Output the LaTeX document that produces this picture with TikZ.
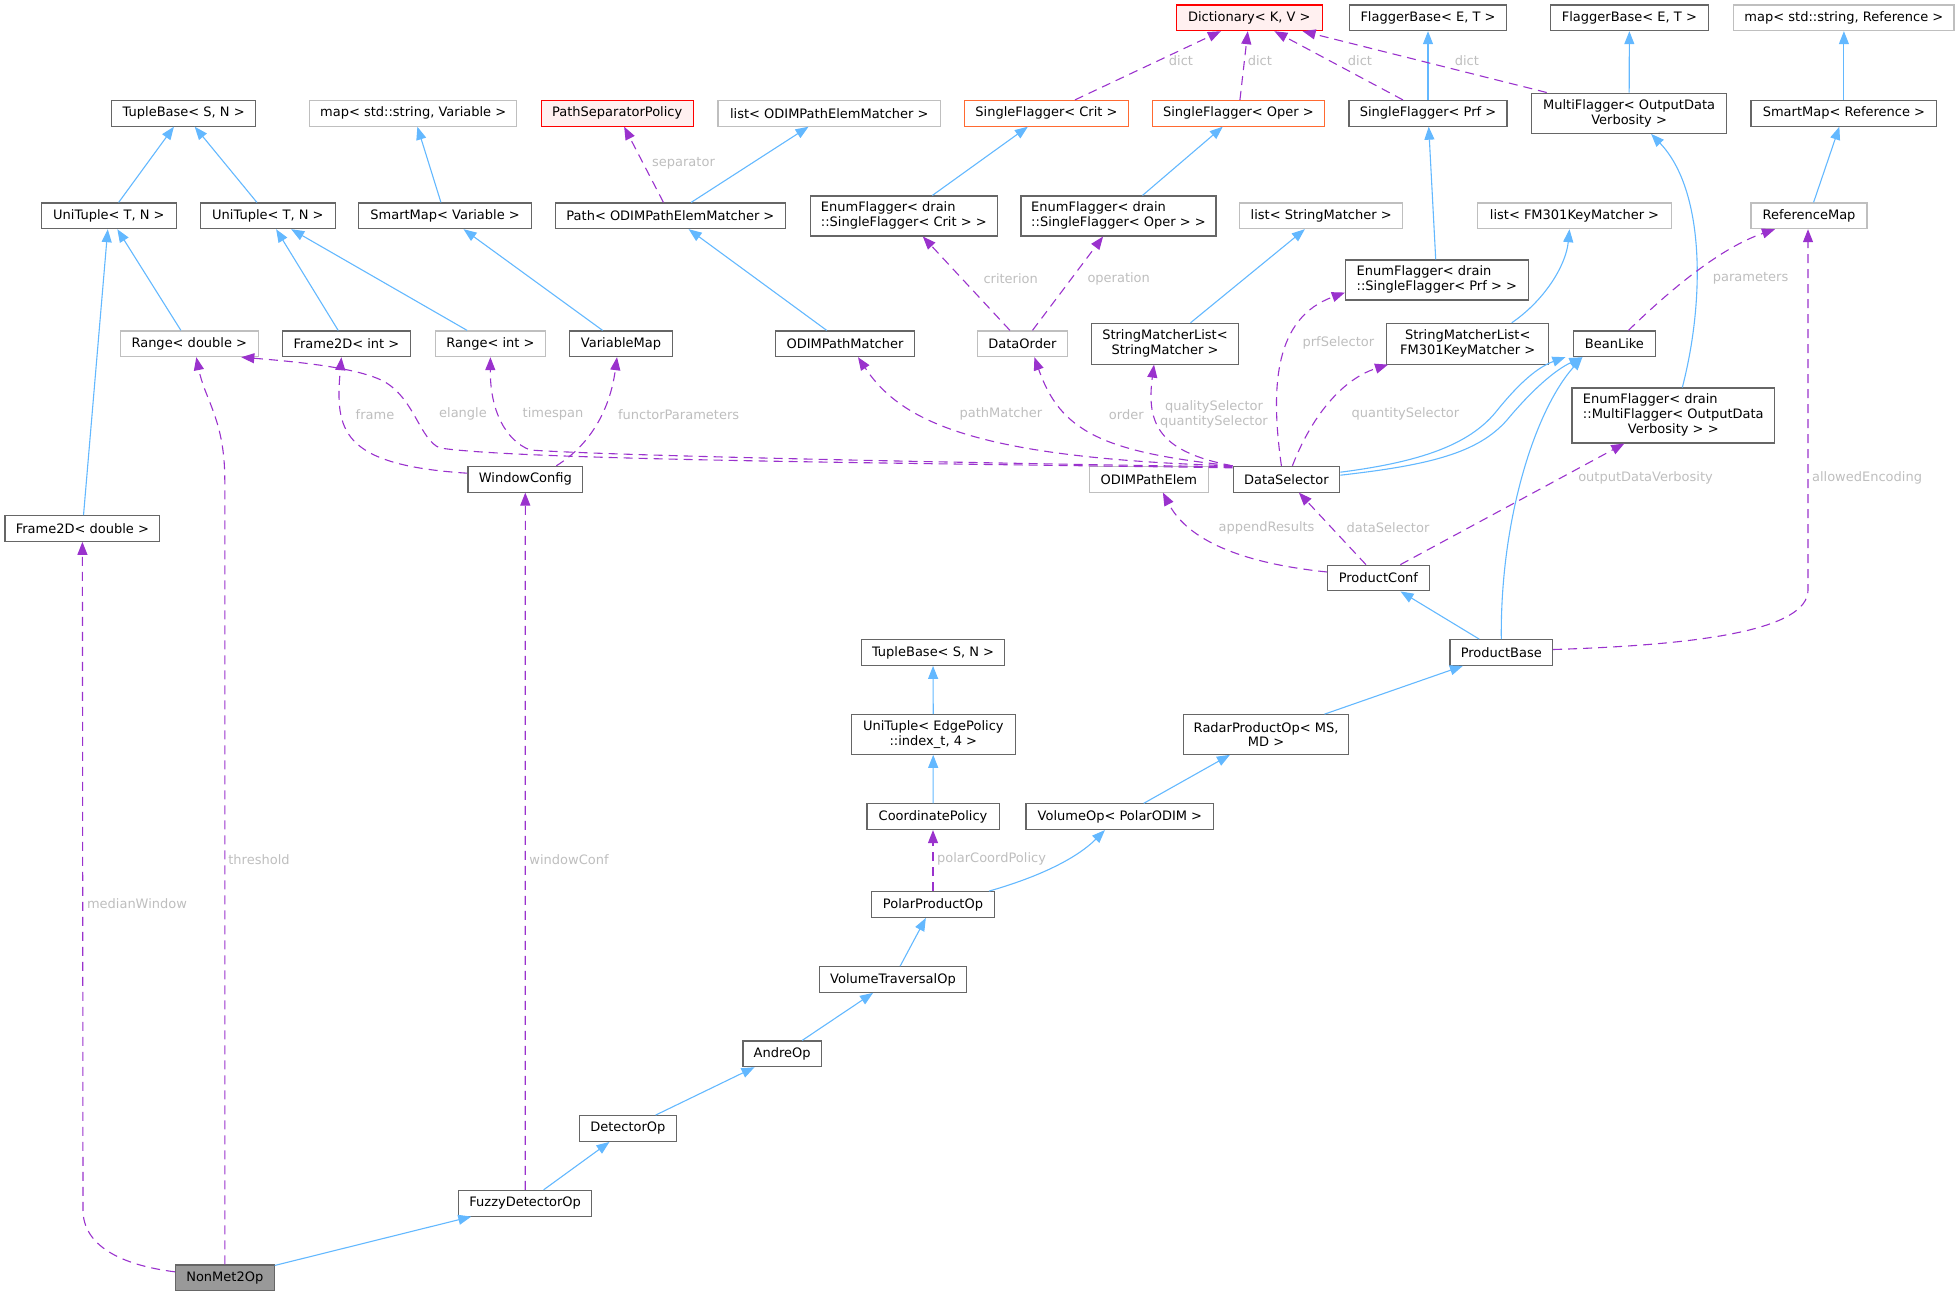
\documentclass[tikz,border=0pt]{standalone}
\usepackage{fontspec}
\setmainfont{DejaVu Sans}
\usetikzlibrary{arrows.meta}

\definecolor{edgeblue}{HTML}{63B8FF}
\definecolor{edgepurple}{HTML}{9A32CD}
\definecolor{lblgray}{HTML}{BEBEBE}
\definecolor{boxgray}{HTML}{666666}
\definecolor{extgray}{HTML}{BFBFBF}
\definecolor{truncred}{HTML}{FF0000}
\definecolor{truncfill}{HTML}{FFF0F0}
\definecolor{partorange}{HTML}{FF6A32}
\definecolor{selffill}{HTML}{999999}

\tikzset{
 box/.style={draw=boxgray, line width=1.1pt, fill=white, inner sep=0pt,
   minimum height=25.7pt, align=center, font=\fontsize{13}{14.7}\selectfont},
 extbox/.style={box, draw=extgray},
 redbox/.style={box, draw=truncred, fill=truncfill},
 orangebox/.style={box, draw=partorange},
 selfbox/.style={box, fill=selffill},
 inhedge/.style={draw=edgeblue, line width=1.1pt, -{Triangle[length=13pt,width=10pt]}},
 useedge/.style={draw=edgepurple, line width=1.1pt, dash pattern=on 9pt off 6pt,
   -{Triangle[length=13pt,width=10pt]}},
 elabel/.style={text=lblgray, inner sep=0pt, align=center, font=\fontsize{13}{14.7}\selectfont},
}

\begin{document}
\begin{tikzpicture}[x=1pt,y=-1pt]
 \useasboundingbox (0,0) rectangle (1959,1296);

 % top rows
 \node[redbox, minimum width=146pt] (dict) at (1249.3,17.8) {Dictionary< K, V >};
 \node[box, minimum width=157.6pt] (fb1) at (1428,17.8) {FlaggerBase< E, T >};
 \node[box, minimum width=157.7pt] (fb2) at (1629.4,17.8) {FlaggerBase< E, T >};
 \node[extbox, minimum width=220.2pt] (mapRef) at (1843.9,17.8) {map< std::string, Reference >};

 \node[box, minimum width=144.2pt] (tbL) at (183.7,113.3) {TupleBase< S, N >};
 \node[extbox, minimum width=206.7pt] (mapVar) at (413.2,113.3) {map< std::string, Variable >};
 \node[redbox, minimum width=152.3pt] (pathSep) at (617.2,113.3) {PathSeparatorPolicy};
 \node[extbox, minimum width=222.7pt] (listODIM) at (829.3,113.3) {list< ODIMPathElemMatcher >};
 \node[orangebox, minimum width=164.3pt] (sfCrit) at (1046.5,113.3) {SingleFlagger< Crit >};
 \node[orangebox, minimum width=172.3pt] (sfOper) at (1238.4,113.3) {SingleFlagger< Oper >};
 \node[box, minimum width=158pt] (sfPrf) at (1428,113.3) {SingleFlagger< Prf >};
 \node[box, minimum width=195pt, minimum height=40.3pt] (multiFl) at (1629.1,113.2)
   {MultiFlagger< OutputData\\Verbosity >};
 \node[box, minimum width=185.8pt] (smRef) at (1843.9,113.3) {SmartMap< Reference >};

 \node[box, minimum width=134.8pt] (utA) at (108.9,215.8) {UniTuple< T, N >};
 \node[box, minimum width=134.9pt] (utB) at (267.9,215.8) {UniTuple< T, N >};
 \node[box, minimum width=172.4pt] (smVar) at (445.1,215.8) {SmartMap< Variable >};
 \node[box, minimum width=230.7pt] (pathODIM) at (670.4,215.8) {Path< ODIMPathElemMatcher >};
 \node[box, minimum width=187pt, minimum height=40pt] (efCrit) at (903.8,216)
   {\begin{tabular}{@{}l@{}}EnumFlagger< drain\\::SingleFlagger< Crit > >\end{tabular}};
 \node[box, minimum width=195pt, minimum height=40pt] (efOper) at (1118.5,216)
   {\begin{tabular}{@{}l@{}}EnumFlagger< drain\\::SingleFlagger< Oper > >\end{tabular}};
 \node[extbox, minimum width=163pt] (listSM) at (1321.2,215.8) {list< StringMatcher >};
 \node[extbox, minimum width=193.4pt] (listFM) at (1574.5,215.8) {list< FM301KeyMatcher >};
 \node[extbox, minimum width=116pt] (refMap) at (1809,215.8) {ReferenceMap};
 \node[box, minimum width=182.8pt, minimum height=40pt] (efPrf) at (1436.8,280)
   {\begin{tabular}{@{}l@{}}EnumFlagger< drain\\::SingleFlagger< Prf > >\end{tabular}};

 \node[extbox, minimum width=137.5pt] (rangeD) at (189.3,343.8) {Range< double >};
 \node[box, minimum width=128.7pt] (frame2I) at (346.4,343.8) {Frame2D< int >};
 \node[extbox, minimum width=110.2pt] (rangeI) at (490.4,343.8) {Range< int >};
 \node[box, minimum width=102.7pt] (varMap) at (621,343.8) {VariableMap};
 \node[box, minimum width=139.3pt] (odimPM) at (845,343.8) {ODIMPathMatcher};
 \node[extbox, minimum width=89.3pt] (dataOrder) at (1022.4,343.8) {DataOrder};
 \node[box, minimum width=146.9pt, minimum height=40.7pt] (smlSM) at (1165,343.7)
   {StringMatcherList<\\StringMatcher >};
 \node[box, minimum width=162.2pt, minimum height=40.7pt] (smlFM) at (1467.7,343.7)
   {StringMatcherList<\\FM301KeyMatcher >};
 \node[box, minimum width=81.6pt] (beanLike) at (1614.4,343.8) {BeanLike};
 \node[box, minimum width=202.6pt, minimum height=55pt] (efMulti) at (1673.3,415.5)
   {\begin{tabular}{@{}l@{}}EnumFlagger< drain\\::MultiFlagger< OutputData\\
    \multicolumn{1}{@{}c@{}}{Verbosity > >}\end{tabular}};

 \node[box, minimum width=114.7pt] (windowCfg) at (525.3,479.2) {WindowConfig};
 \node[extbox, minimum width=118.3pt] (odimPE) at (1148.9,479.2) {ODIMPathElem};
 \node[box, minimum width=106.7pt] (dataSel) at (1286.4,479.2) {DataSelector};
 \node[box, minimum width=154.9pt] (frame2D) at (82.4,528.5) {Frame2D< double >};
 \node[box, minimum width=101.3pt] (prodConf) at (1378.4,578) {ProductConf};
 \node[box, minimum width=102.6pt] (prodBase) at (1501.3,652.5) {ProductBase};

 % lower part
 \node[box, minimum width=143.8pt] (tb2) at (933,652.5) {TupleBase< S, N >};
 \node[box, minimum width=163.9pt, minimum height=39.6pt] (utEdge) at (933.3,734.5)
   {UniTuple< EdgePolicy\\::index\_t, 4 >};
 \node[box, minimum width=165.2pt, minimum height=39.6pt] (radarOp) at (1266.1,734.5)
   {RadarProductOp< MS,\\MD >};
 \node[box, minimum width=132.1pt] (coordPol) at (933,816.7) {CoordinatePolicy};
 \node[box, minimum width=187.9pt] (volOp) at (1119.9,816.7) {VolumeOp< PolarODIM >};
 \node[box, minimum width=122.5pt] (polarOp) at (933,904.5) {PolarProductOp};
 \node[box, minimum width=147.3pt] (volTrav) at (893,979.5) {VolumeTraversalOp};
 \node[box, minimum width=78.4pt] (andreOp) at (782.2,1053.8) {AndreOp};
 \node[box, minimum width=96.3pt] (detectorOp) at (627.9,1128.5) {DetectorOp};
 \node[box, minimum width=133.3pt] (fuzzyOp) at (525.2,1203.2) {FuzzyDetectorOp};
 \node[selfbox, minimum width=98.8pt] (nonMet) at (224.8,1277.8) {NonMet2Op};

 % inheritance
 \draw[inhedge] (utA) -- (tbL);
 \draw[inhedge] (utB) -- (tbL);
 \draw[inhedge] (smVar) -- (mapVar);
 \draw[inhedge] (pathODIM) -- (listODIM);
 \draw[inhedge] (efCrit) -- (sfCrit);
 \draw[inhedge] (efOper) -- (sfOper);
 \draw[inhedge] (sfPrf) -- (fb1);
 \draw[inhedge] (multiFl) -- (fb2);
 \draw[inhedge] (smRef) -- (mapRef);
 \draw[inhedge] (rangeD) -- (utA);
 \draw[inhedge] (frame2D) -- (utA);
 \draw[inhedge] (frame2I) -- (utB);
 \draw[inhedge] (rangeI) -- (utB);
 \draw[inhedge] (varMap) -- (smVar);
 \draw[inhedge] (odimPM) -- (pathODIM);
 \draw[inhedge] (smlSM) -- (listSM);
 \draw[inhedge] (efPrf) -- (sfPrf);
 \draw[inhedge] ([xshift=44pt]smlFM.north) .. controls (1545,300) and (1566,265) .. ([xshift=-5pt]listFM.south);
 \draw[inhedge] ([xshift=9pt]efMulti.north) .. controls (1705,300) and (1705,190) .. ([xshift=22pt]multiFl.south);
 \draw[inhedge] (refMap) -- (smRef);
 \draw[inhedge] ([yshift=7pt]dataSel.east) .. controls (1420,462) and (1468,445) .. (1495,413)
   .. controls (1515,388) and (1535,368) .. ([xshift=-49pt]beanLike.south);
 \draw[inhedge] ([yshift=4pt]dataSel.east) .. controls (1430,465) and (1478,453) .. (1507,420)
   .. controls (1532,390) and (1555,370) .. ([xshift=-32pt]beanLike.south);
 \draw[inhedge] (prodBase.north) .. controls (1500,520) and (1535,410) .. ([xshift=-32pt]beanLike.south);
 \draw[inhedge] (prodBase) -- (prodConf);
 \draw[inhedge] (radarOp) -- (prodBase);
 \draw[inhedge] (volOp) -- (radarOp);
 \draw[inhedge] ([xshift=56pt]polarOp.north) .. controls (1035,878) and (1075,860) .. ([xshift=-15pt]volOp.south);
 \draw[inhedge] (utEdge) -- (tb2);
 \draw[inhedge] (coordPol) -- (utEdge);
 \draw[inhedge] (volTrav) -- (polarOp);
 \draw[inhedge] (andreOp) -- (volTrav);
 \draw[inhedge] (detectorOp) -- (andreOp);
 \draw[inhedge] (fuzzyOp) -- (detectorOp);
 \draw[inhedge] (nonMet) -- (fuzzyOp);

 % usage
 \draw[useedge] (sfCrit) -- (dict);
 \draw[useedge] (sfOper) -- (dict);
 \draw[useedge] (sfPrf) -- (dict);
 \draw[useedge] (multiFl) -- (dict);
 \draw[useedge] (pathODIM) -- (pathSep);
 \draw[useedge] (dataOrder) -- (efCrit);
 \draw[useedge] (dataOrder) -- (efOper);
 \draw[useedge] ([xshift=-5pt]dataSel.north) .. controls (1270,385) and (1275,318) .. ([yshift=8pt]efPrf.south west);
 \draw[useedge] ([xshift=6pt]dataSel.north) .. controls (1310,420) and (1340,380) .. ([xshift=2pt]smlFM.south west);
 \draw[useedge] (dataSel.north west) .. controls (1160,452) and (1146,425) .. ([xshift=-11pt]smlSM.south);
 \draw[useedge] (dataSel.north west) .. controls (1100,452) and (1060,430) .. ([xshift=12pt]dataOrder.south);
 \draw[useedge] (dataSel.north west) .. controls (970,458) and (900,420) .. ([xshift=13pt]odimPM.south);
 \draw[useedge] ([yshift=-1pt]dataSel.north west) .. controls (900,462) and (600,455) .. (530,450)
   .. controls (505,440) and (490,410) .. (rangeI.south);
 \draw[useedge] ([yshift=-2pt]dataSel.north west) .. controls (900,463) and (520,460) .. (440,448)
   .. controls (420,440) and (415,400) .. (385,382) .. controls (360,368) and (300,362) .. ([xshift=52pt]rangeD.south);
 \draw[useedge] ([yshift=6pt]windowCfg.west) .. controls (340,465) and (335,430) .. ([xshift=-5pt]frame2I.south);
 \draw[useedge] ([xshift=31pt]windowCfg.north) .. controls (590,445) and (610,410) .. ([xshift=-4pt]varMap.south);
 \draw[useedge] ([xshift=14pt]beanLike.north) .. controls (1670,290) and (1720,248) .. ([xshift=-34pt]refMap.south);
 \draw[useedge] ([yshift=6pt]prodConf.west) .. controls (1230,562) and (1185,535) .. ([xshift=14pt]odimPE.south);
 \draw[useedge] (prodConf) -- (dataSel);
 \draw[useedge] ([xshift=22pt]prodConf.north) -- ([xshift=-49pt]efMulti.south);
 \draw[useedge] ([yshift=3pt]prodBase.east) .. controls (1700,645) and (1808,630) .. (1808,590) -- ([xshift=-1pt]refMap.south);
 \draw[useedge] (polarOp) -- (coordPol);
 \draw[useedge] (fuzzyOp) -- (windowCfg);
 \draw[useedge] (nonMet.north) -- (224.8,480) .. controls (224.8,420) and (205,400) .. ([xshift=7pt]rangeD.south);
 \draw[useedge] ([yshift=6pt]nonMet.west) .. controls (120,1265) and (83,1245) .. (83,1210) -- (frame2D.south);

 % edge labels
 \node[elabel] (lDict1) at (1181,60.7) {dict};
 \node[elabel] (lDict2) at (1259.8,60.7) {dict};
 \node[elabel] (lDict3) at (1360,60.7) {dict};
 \node[elabel] (lDict4) at (1466.9,60.7) {dict};
 \node[elabel] (lSep) at (683.5,163.7) {separator};
 \node[elabel] (lCrit) at (1010.7,278.7) {criterion};
 \node[elabel] (lOper) at (1118.7,278.7) {operation};
 \node[elabel] (lFrame) at (375,414.3) {frame};
 \node[elabel] (lElangle) at (463,414.3) {elangle};
 \node[elabel] (lTime) at (553,414.3) {timespan};
 \node[elabel] (lFunctor) at (678.6,414.3) {functorParameters};
 \node[elabel] (lPath) at (1000.9,414.3) {pathMatcher};
 \node[elabel] (lOrder) at (1126.3,414.3) {order};
 \node[elabel] (lQual) at (1214,414.2) {qualitySelector\\quantitySelector};
 \node[elabel] (lPrf) at (1338.4,342.7) {prfSelector};
 \node[elabel] (lQuant) at (1405.4,414.3) {quantitySelector};
 \node[elabel] (lParam) at (1750.6,278.7) {parameters};
 \node[elabel] (lAppend) at (1266.5,527.7) {appendResults};
 \node[elabel] (lDataSel) at (1388,527.7) {dataSelector};
 \node[elabel] (lOutput) at (1645.5,478.3) {outputDataVerbosity};
 \node[elabel] (lAllowed) at (1867,478.3) {allowedEncoding};
 \node[elabel] (lPolar) at (991.5,859.3) {polarCoordPolicy};
 \node[elabel] (lThresh) at (259,859.3) {threshold};
 \node[elabel] (lWinConf) at (569,859.3) {windowConf};
 \node[elabel] (lMedian) at (137,904) {medianWindow};
\end{tikzpicture}
\end{document}
